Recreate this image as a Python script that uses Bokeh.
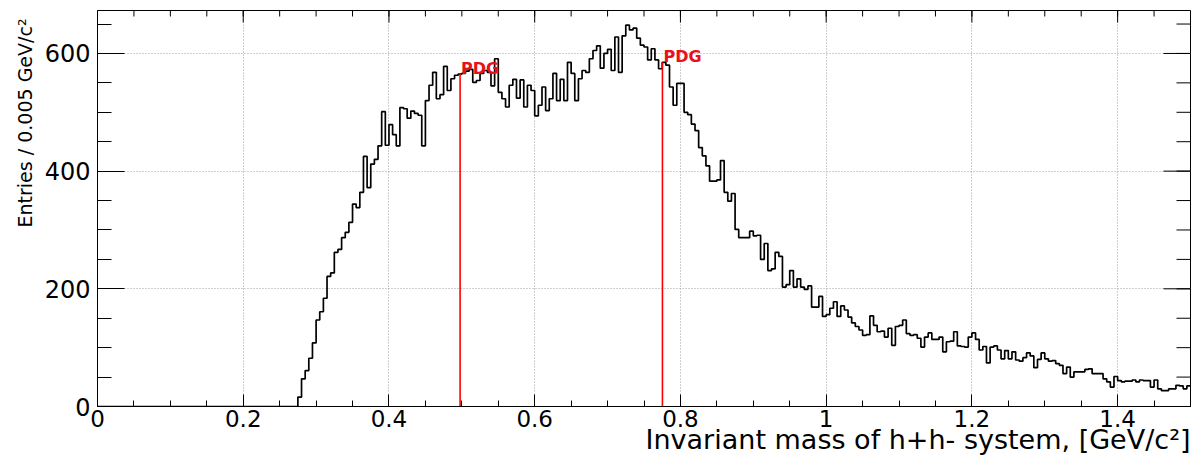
import numpy as np
from bokeh.plotting import figure
from bokeh.models import FixedTicker, NumeralTickFormatter, Range1d, ColumnDataSource, Title
from bokeh.core.properties import value
from bokeh.embed import file_html
from bokeh.resources import INLINE

# ---------------- data ----------------
bin_width = 0.005
x_start, x_end = 0.0, 1.5
y_end = 673

# entries per 0.005 GeV/c^2 bin, rows of 10 bins (0.05 GeV/c^2 each)
counts = (
    [0] * 50 +                                                   # 0.00 - 0.25
    [0, 0, 0, 0, 0, 16, 47, 61, 82, 108] +                       # 0.25
    [147, 161, 184, 221, 227, 262, 267, 287, 296, 313] +         # 0.30
    [344, 338, 364, 425, 372, 412, 420, 443, 501, 444] +         # 0.35
    [479, 462, 443, 508, 506, 490, 502, 498, 495, 443] +         # 0.40
    [520, 546, 568, 523, 530, 578, 537, 557, 563, 565] +         # 0.45
    [566, 570, 573, 551, 554, 566, 571, 568, 545, 591] +         # 0.50
    [534, 523, 509, 546, 556, 524, 555, 509, 546, 537] +         # 0.55
    [494, 512, 543, 503, 523, 566, 520, 556, 520, 585] +         # 0.60
    [566, 520, 557, 571, 568, 591, 605, 613, 575, 600] +         # 0.65
    [607, 571, 628, 568, 630, 648, 640, 643, 626, 614] +         # 0.70
    [611, 589, 608, 589, 574, 585, 580, 543, 512, 549] +         # 0.75
    [549, 500, 496, 480, 469, 440, 426, 409, 383, 383] +         # 0.80
    [385, 418, 364, 349, 362, 301, 287, 287, 287, 298] +         # 0.85
    [290, 291, 250, 277, 231, 234, 262, 255, 203, 207] +         # 0.90
    [231, 203, 217, 203, 199, 205, 169, 169, 187, 153] +         # 0.95
    [156, 167, 178, 153, 171, 164, 152, 142, 136, 130] +         # 1.00
    [121, 122, 154, 138, 127, 128, 118, 133, 104, 136] +         # 1.05
    [138, 147, 124, 121, 122, 116, 101, 118, 125, 114] +         # 1.10
    [114, 118, 93, 110, 111, 127, 103, 102, 101, 118] +          # 1.15
    [125, 114, 96, 102, 74, 101, 103, 96, 81, 95] +              # 1.20
    [81, 93, 79, 77, 83, 91, 86, 66, 80, 91] +                   # 1.25
    [81, 77, 78, 73, 70, 56, 67, 50, 59, 59] +                   # 1.30
    [59, 63, 64, 56, 56, 56, 47, 42, 33, 51] +                   # 1.35
    [44, 42, 43, 43, 45, 42, 45, 44, 44, 33] +                   # 1.40
    [45, 30, 27, 27, 30, 30, 36, 35, 30, 35]                     # 1.45
)

pdg_masses = [0.4976, 0.7753]
pdg_names = ["PDG", "PDG"]

x_major = [0, 0.2, 0.4, 0.6, 0.8, 1.0, 1.2, 1.4]
x_minor = [round(0.05 * i, 2) for i in range(31)]
y_major = [0, 200, 400, 600]
y_minor = [50 * i for i in range(14)]

x_title = "Invariant mass of h+h- system, [GeV/c²]"
y_title = "Entries / 0.005 GeV/c²"

# ---------------- figure ----------------
FONT = "DejaVu Sans"
p = figure(width=1194, height=458, output_backend="svg", toolbar_location=None,
           x_range=Range1d(x_start, x_end), y_range=Range1d(0, y_end),
           min_border_left=97, min_border_right=4, min_border_top=10, min_border_bottom=52,
           background_fill_color="white", border_fill_color="white")
p.outline_line_color = "black"
p.outline_line_width = 1

xa = p.xaxis[0]
xa.ticker = FixedTicker(ticks=x_major, minor_ticks=x_minor)
xa.formatter = NumeralTickFormatter(format="0.[0]")
xa.major_tick_in, xa.major_tick_out = 12, 0
xa.minor_tick_in, xa.minor_tick_out = 6, 0
xa.major_label_text_font = FONT
xa.major_label_text_font_size = "23px"
xa.major_label_text_color = "black"
xa.major_label_standoff = 3
xa.axis_line_color = "black"
xa.major_tick_line_color = "black"
xa.minor_tick_line_color = "black"

ya = p.yaxis[0]
ya.ticker = FixedTicker(ticks=y_major, minor_ticks=y_minor)
ya.formatter = NumeralTickFormatter(format="0")
ya.major_tick_in, ya.major_tick_out = 27, 0
ya.minor_tick_in, ya.minor_tick_out = 14, 0
ya.major_label_text_font = FONT
ya.major_label_text_font_size = "24px"
ya.major_label_text_color = "black"
ya.major_label_standoff = 7
ya.axis_line_color = "black"
ya.major_tick_line_color = "black"
ya.minor_tick_line_color = "black"

# axis titles, ROOT style: aligned to the far ends of the axes
p.add_layout(Title(text=x_title, align="right", text_font=FONT, text_font_size="27px",
                   text_font_style="normal", text_color="black", standoff=-15), "below")
p.add_layout(Title(text=y_title, align="right", text_font=FONT, text_font_size="19px",
                   text_font_style="normal", text_color="black", standoff=11, offset=8), "left")

p.grid.grid_line_color = "#a0a0a0"
p.grid.grid_line_dash = "1 2"
p.grid.grid_line_width = 1

# ticks on the top and right frame edges (inward, as in ROOT)
p.ray(x=x_major, y=[y_end] * len(x_major), length=12, length_units="screen",
      angle=-np.pi / 2, line_color="black", line_width=1)
p.ray(x=x_minor, y=[y_end] * len(x_minor), length=6, length_units="screen",
      angle=-np.pi / 2, line_color="black", line_width=1)
p.ray(x=[x_end] * len(y_major), y=y_major, length=27, length_units="screen",
      angle=np.pi, line_color="black", line_width=1)
p.ray(x=[x_end] * len(y_minor), y=y_minor, length=14, length_units="screen",
      angle=np.pi, line_color="black", line_width=1)

# histogram outline
edges = list(x_start + bin_width * np.arange(len(counts) + 1))
ys = counts + [counts[-1]]
p.step(edges, ys, mode="after", line_color="black", line_width=1.7)

# PDG markers
heights = [counts[int(m / bin_width)] for m in pdg_masses]
src = ColumnDataSource(dict(x=pdg_masses, y0=[0] * len(pdg_masses), y=heights, t=pdg_names))
p.segment(x0="x", y0="y0", x1="x", y1="y", source=src, line_color="#ff0000", line_width=1.6)
p.text(x="x", y="y", text="t", source=src, text_color="#e8101a",
       text_font=value(FONT), text_font_style="bold", text_font_size="16px",
       text_align="left", text_baseline="alphabetic", x_offset=1, y_offset=-6)

open("out.html", "w").write(file_html(p, INLINE))
